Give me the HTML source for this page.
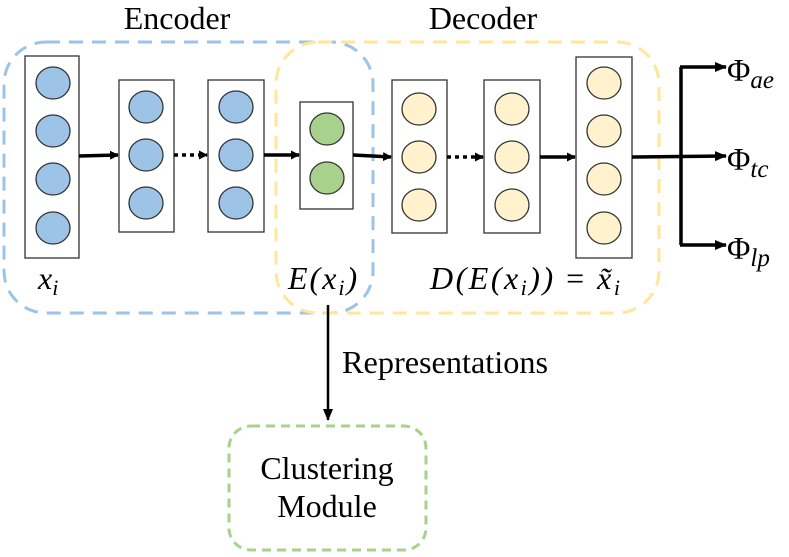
<!DOCTYPE html>
<html><head><meta charset="utf-8"><style>
html,body{margin:0;padding:0;background:#fff;}
svg{display:block;}
text{font-family:"Liberation Serif",serif;fill:#000;}
.m{font-style:italic;}
</style></head><body>
<svg width="789" height="557" viewBox="0 0 789 557" xmlns="http://www.w3.org/2000/svg">
<defs>
<marker id="ah" markerWidth="9" markerHeight="9" refX="8" refY="4.5" orient="auto" markerUnits="userSpaceOnUse">
<path d="M0,0 L9,4.5 L0,9 Z" fill="#000"/></marker>
<marker id="ah2" markerWidth="12" markerHeight="10" refX="11" refY="5" orient="auto" markerUnits="userSpaceOnUse">
<path d="M0,0 L12,5 L0,10 Z" fill="#000"/></marker>
</defs>
<text x="177" y="29" font-size="32" text-anchor="middle">Encoder</text>
<text x="483" y="29" font-size="32" text-anchor="middle">Decoder</text>
<rect x="4" y="42" width="369" height="271" rx="42" fill="none" stroke="#9dc3e6" stroke-width="3" stroke-dasharray="14,9"/>
<rect x="276" y="42" width="383" height="271" rx="42" fill="none" stroke="#ffe699" stroke-width="3" stroke-dasharray="14,9"/>
<g stroke="#333" stroke-width="1.3">
<rect x="25" y="56" width="54" height="202" fill="#fff"/>
<rect x="119" y="80" width="55" height="152" fill="#fff"/>
<rect x="208" y="80" width="56" height="152" fill="#fff"/>
<rect x="300" y="102" width="53" height="107" fill="#fff"/>
<rect x="392" y="80" width="55" height="153" fill="#fff"/>
<rect x="484" y="80" width="56" height="153" fill="#fff"/>
<rect x="576" y="57" width="56" height="201" fill="#fff"/>
<g fill="#9dc3e6">
<ellipse cx="53" cy="83" rx="17" ry="16"/><ellipse cx="53" cy="131" rx="17" ry="16"/><ellipse cx="53" cy="179" rx="17" ry="16"/><ellipse cx="53" cy="228" rx="17" ry="16"/>
<ellipse cx="146" cy="107" rx="17" ry="16"/><ellipse cx="146" cy="155" rx="17" ry="16"/><ellipse cx="146" cy="203" rx="17" ry="16"/>
<ellipse cx="236" cy="107" rx="17" ry="16"/><ellipse cx="236" cy="155" rx="17" ry="16"/><ellipse cx="236" cy="203" rx="17" ry="16"/>
</g>
<g fill="#a9d18e">
<ellipse cx="327" cy="129" rx="17" ry="16"/><ellipse cx="327" cy="178" rx="17" ry="16"/>
</g>
<g fill="#fff2cc">
<ellipse cx="419" cy="109" rx="17" ry="16"/><ellipse cx="419" cy="157" rx="17" ry="16"/><ellipse cx="419" cy="205" rx="17" ry="16"/>
<ellipse cx="512" cy="109" rx="17" ry="16"/><ellipse cx="512" cy="157" rx="17" ry="16"/><ellipse cx="512" cy="205" rx="17" ry="16"/>
<ellipse cx="604" cy="83" rx="17" ry="16"/><ellipse cx="604" cy="131" rx="17" ry="16"/><ellipse cx="604" cy="179" rx="17" ry="16"/><ellipse cx="604" cy="228" rx="17" ry="16"/>
</g>
</g>
<g stroke="#000" stroke-width="3.5" fill="none">
<line x1="79" y1="156" x2="118" y2="155" marker-end="url(#ah)"/>
<line x1="174" y1="155" x2="207" y2="155" stroke-dasharray="4,4" marker-end="url(#ah)"/>
<line x1="264" y1="155" x2="299" y2="155" marker-end="url(#ah)"/>
<line x1="353" y1="155" x2="391" y2="157" marker-end="url(#ah)"/>
<line x1="447" y1="157" x2="483" y2="157" stroke-dasharray="4,4" marker-end="url(#ah)"/>
<line x1="540" y1="157" x2="575" y2="157" marker-end="url(#ah)"/>
<line x1="632" y1="157" x2="726" y2="156" marker-end="url(#ah2)"/>
<line x1="681" y1="67" x2="681" y2="245"/>
<line x1="680" y1="67" x2="726" y2="67" marker-end="url(#ah2)"/>
<line x1="680" y1="245" x2="726" y2="245" marker-end="url(#ah2)"/>
<line x1="328" y1="305" x2="328" y2="420" stroke-width="2.5" marker-end="url(#ah2)"/>
</g>
<text x="727" y="81" font-size="32">Φ<tspan class="m" font-size="25" dy="7">ae</tspan></text>
<text x="727" y="170" font-size="32">Φ<tspan class="m" font-size="25" dy="7">tc</tspan></text>
<text x="727" y="259" font-size="32">Φ<tspan class="m" font-size="25" dy="7">lp</tspan></text>
<text x="38" y="289" font-size="32" class="m">x<tspan font-size="22" dy="6">i</tspan></text>
<text x="288" y="289" font-size="32" class="m" letter-spacing="2">E(x<tspan font-size="22" dy="6">i</tspan><tspan dy="-6">)</tspan></text>
<text x="430" y="289" font-size="32" class="m" letter-spacing="2.5">D(E(x<tspan font-size="22" dy="6">i</tspan><tspan dy="-6">)) <tspan font-style="normal">=</tspan> x̃</tspan><tspan font-size="22" dy="6">i</tspan></text>
<text x="342" y="373" font-size="32" textLength="206" lengthAdjust="spacingAndGlyphs">Representations</text>
<rect x="229" y="426" width="197" height="124" rx="22" fill="none" stroke="#a9d18e" stroke-width="3" stroke-dasharray="9,6"/>
<text x="327" y="479" font-size="32" text-anchor="middle">Clustering</text>
<text x="327" y="517" font-size="32" text-anchor="middle">Module</text>
</svg>
</body></html>
